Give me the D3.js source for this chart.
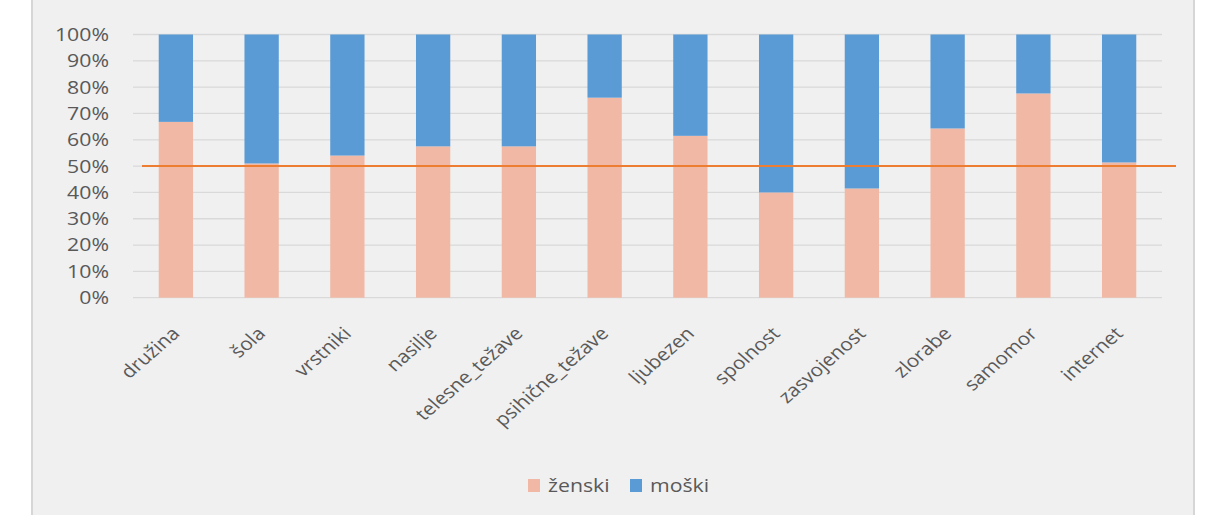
<!DOCTYPE html>
<html>
<head>
<meta charset="utf-8">
<script src="https://cdn.jsdelivr.net/npm/d3@7"></script>
<style>
  body { margin: 0; background: #fff; }
  #chart svg { display: block; }
</style>
</head>
<body>
<div id="chart"></div>
<script>
(function(){

  // data: share of girls (ženski), the rest is boys (moški)
  let categories = ['družina', 'šola', 'vrstniki', 'nasilje', 'telesne_težave', 'psihične_težave',
    'ljubezen', 'spolnost', 'zasvojenost', 'zlorabe', 'samomor', 'internet'];
  let zenski = [0.668, 0.51, 0.54, 0.575, 0.575, 0.76, 0.615, 0.40, 0.415, 0.643, 0.776, 0.514];
  let moski = zenski.map((v) => 1 - v);
  let seriesNames = ['ženski', 'moški'];
  let yTicks = [0, 0.1, 0.2, 0.3, 0.4, 0.5, 0.6, 0.7, 0.8, 0.9, 1];
  let refLine = 0.5;

  let width = 1208;
  let height = 515;
  let colors = ['#f1b9a5', '#5b9bd5'];
  let font = 'Open Sans, sans-serif';
  let stretch = 1.15; //the source picture is a bit wider than tall

  let svg = d3.select('#chart')
  .append('svg')
  .attr('width', width)
  .attr('height', height);

  // chart panel
  svg.append('rect')
  .attr('x', 32).attr('y', -2)
  .attr('width', 1162).attr('height', height + 4)
  .attr('fill', '#f0f0f0')
  .attr('stroke', '#d6d6d6')
  .attr('stroke-width', 2);

  let x = d3.scaleBand().domain(categories).range([133, 1162]).paddingInner(0.6).paddingOuter(0.3);
  let y = d3.scaleLinear().domain([0, 1]).range([297.7, 34.5]);

  //gridlines
  svg.append('g')
  .selectAll('line')
  .data(yTicks)
  .enter().append('line')
  .attr('x1', 133).attr('x2', 1162)
  .attr('y1', (d) => y(d)).attr('y2', (d) => y(d))
  .attr('stroke', '#d9d9d9')
  .attr('stroke-width', 1.3);

  //y axis labels
  let yAxis = svg.append('g')
  .attr('transform', 'translate(109,0)')
  .call(d3.axisLeft(y).tickValues(yTicks).tickFormat(d3.format('.0%')).tickSize(0).tickPadding(0));
  yAxis.select('.domain').remove();
  yAxis.selectAll('text')
  .attr('font-family', font)
  .attr('font-size', 18.5)
  .attr('fill', '#595959')
  .attr('transform', `scale(${stretch},1)`);

  //stacked bars
  let stacked = d3.stack().keys([0, 1]).value((d, k) => d[k])(categories.map((c, i) => [zenski[i], moski[i]]));

  svg.append('g')
  .selectAll('g')
  .data(stacked)
  .enter().append('g')
  .attr('fill', (d, i) => colors[i])
  .selectAll('rect')
  .data((d) => d)
  .enter().append('rect')
  .attr('x', (d, i) => x(categories[i]))
  .attr('width', x.bandwidth())
  .attr('y', (d) => y(d[1]))
  .attr('height', (d) => y(d[0]) - y(d[1]));

  // 50% reference line
  svg.append('line')
  .attr('x1', 142).attr('x2', 1176)
  .attr('y1', y(refLine)).attr('y2', y(refLine))
  .attr('stroke', '#ed7d31')
  .attr('stroke-width', 2);

  //x axis labels, rotated
  let xAxis = svg.append('g')
  .attr('transform', `translate(0,${y(0)})`)
  .call(d3.axisBottom(x).tickSize(0).tickPadding(0));
  xAxis.select('.domain').remove();
  xAxis.selectAll('text')
  .attr('font-family', font)
  .attr('font-size', 18)
  .attr('fill', '#595959')
  .attr('text-anchor', 'end')
  .attr('dy', 0)
  .attr('transform', `translate(5,37) scale(${stretch},1) rotate(-45)`);

  //legend
  let legend = svg.append('g').attr('transform', 'translate(528,486)');
  let offsets = [0, 102];
  seriesNames.forEach((name, i) => {
    let g = legend.append('g').attr('transform', `translate(${offsets[i]},0)`);
    g.append('rect').attr('x', 0).attr('y', -7).attr('width', 12).attr('height', 13).attr('fill', colors[i]);
    g.append('text')
    .attr('transform', `translate(20,0) scale(${stretch},1)`)
    .attr('dy', '0.35em')
    .attr('font-family', font)
    .attr('font-size', 18.5)
    .attr('fill', '#595959')
    .text(name);
  });

})();
</script>
</body>
</html>
